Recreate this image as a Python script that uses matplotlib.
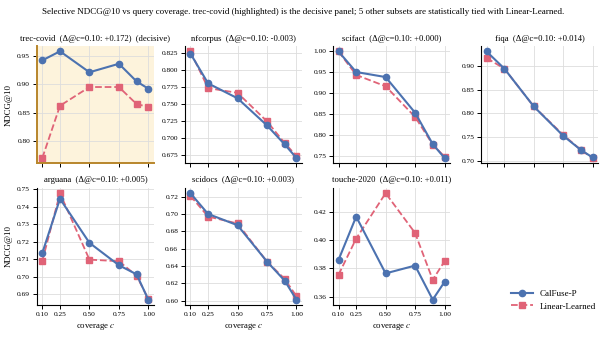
import matplotlib
matplotlib.use("Agg")
import matplotlib.pyplot as plt

plt.rcParams["font.family"] = ["Liberation Serif", "DejaVu Serif"]
plt.rcParams["mathtext.fontset"] = "stix"

coverage = [0.10, 0.25, 0.50, 0.75, 0.90, 1.00]
xticks = [0.10, 0.25, 0.50, 0.75, 1.00]
xtick_labels = ["0.10", "0.25", "0.50", "0.75", "1.00"]

datasets = ["trec-covid", "nfcorpus", "scifact", "fiqa", "arguana", "scidocs", "touche-2020"]
deltas = ["+0.172", "-0.003", "+0.000", "+0.014", "+0.005", "+0.003", "+0.011"]

calfuse = {
    "trec-covid": [0.942, 0.958, 0.921, 0.936, 0.905, 0.892],
    "nfcorpus": [0.824, 0.780, 0.758, 0.718, 0.690, 0.670],
    "scifact": [1.000, 0.951, 0.939, 0.854, 0.779, 0.746],
    "fiqa": [0.931, 0.895, 0.815, 0.753, 0.723, 0.707],
    "arguana": [0.7135, 0.7445, 0.7193, 0.7065, 0.7013, 0.6868],
    "scidocs": [0.724, 0.700, 0.687, 0.645, 0.623, 0.601],
    "touche-2020": [0.386, 0.4165, 0.3765, 0.382, 0.358, 0.3705],
}
linear = {
    "trec-covid": [0.770, 0.862, 0.895, 0.895, 0.865, 0.860],
    "nfcorpus": [0.827, 0.773, 0.766, 0.724, 0.692, 0.673],
    "scifact": [1.000, 0.944, 0.917, 0.844, 0.778, 0.749],
    "fiqa": [0.917, 0.895, 0.815, 0.755, 0.723, 0.706],
    "arguana": [0.709, 0.7477, 0.7097, 0.7088, 0.7005, 0.6872],
    "scidocs": [0.721, 0.697, 0.689, 0.645, 0.625, 0.605],
    "touche-2020": [0.3755, 0.401, 0.433, 0.405, 0.372, 0.385],
}

BLUE = "#4C72B0"
PINK = "#E06377"

fig, axes = plt.subplots(2, 4, figsize=(6.07, 3.37), dpi=100, sharex=True)
fig.subplots_adjust(left=0.061, right=0.985, top=0.863, bottom=0.095,
                    wspace=0.27, hspace=0.21)

for i, name in enumerate(datasets):
    ax = axes.flat[i]
    ax.grid(True, color="#dddddd", lw=0.6)
    ax.set_axisbelow(True)
    ax.plot(coverage, calfuse[name], color=BLUE, marker="o", ms=4.5, lw=1.5,
            label="CalFuse-P", zorder=3)
    ax.plot(coverage, linear[name], color=PINK, marker="s", ms=4.5, lw=1.3,
            ls="--", label="Linear-Learned", zorder=2)
    title = f"{name}  (Δ@c=0.10: {deltas[i]})"
    if name == "trec-covid":
        title += "  (decisive)"
        ax.set_facecolor("#FDF3DC")
        for s in ("left", "bottom"):
            ax.spines[s].set_color("#B8862B")
            ax.spines[s].set_linewidth(1.4)
    ax.set_title(title, fontsize=6.2, pad=4)
    for s in ("top", "right"):
        ax.spines[s].set_visible(False)
    ax.tick_params(labelsize=5.3, length=3, width=0.7, direction="out", pad=2)
    ax.set_xticks(xticks)
    ax.set_xticklabels(xtick_labels)
    if i % 4 == 0:
        ax.set_ylabel("NDCG@10", fontsize=6.3, labelpad=3)
    if i >= 4:
        ax.set_xlabel("coverage $c$", fontsize=6.3, labelpad=3)
        ax.tick_params(labelbottom=True)

axes[0, 0].set_ylim(0.7606, 0.967)
axes.flat[7].axis("off")
handles, labels = axes[0, 0].get_legend_handles_labels()
fig.legend(handles, labels, loc="center", bbox_to_anchor=(0.912, 0.11),
           fontsize=6.5, frameon=False, handlelength=2.4)

fig.suptitle("Selective NDCG@10 vs query coverage. trec-covid (highlighted) is the decisive panel; "
             "5 other subsets are statistically tied with Linear-Learned.",
             fontsize=6.5, y=0.975)

fig.savefig("out.png", dpi=100)
